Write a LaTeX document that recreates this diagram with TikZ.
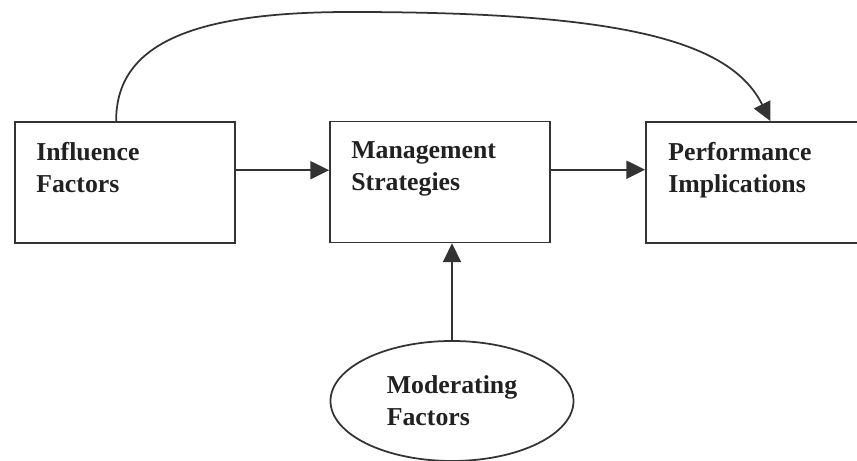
\documentclass[tikz,border=0pt]{standalone}
\usepackage{fontspec}
\setmainfont{Liberation Serif}
\usetikzlibrary{arrows.meta,calc,shapes.geometric}
\definecolor{LineClr}{rgb}{0.2,0.2,0.2}
\definecolor{TextClr}{rgb}{0.13,0.13,0.13}

\tikzset{
  box/.style={draw=LineClr,line width=1.5pt,minimum width=6.6cm,minimum height=3.63cm,inner sep=0pt},
  lbl/.style={anchor=north west,align=left,inner sep=0pt,text=TextClr,
    font=\fontsize{22}{27}\selectfont\bfseries},
  link/.style={draw=LineClr,line width=1.5pt,-{Triangle[length=5.6mm,width=5.4mm]}}
}

\begin{document}
\begin{tikzpicture}[x=0.03cm,y=-0.03cm]
\useasboundingbox (0,0) rectangle (857,461);

% boxes
\node[box] (inf)  at (125,182.5) {};
\node[box] (mgmt) at (440,182)   {};
\node[box] (perf) at (756,182.5) {};
\node[draw=LineClr,line width=1.5pt,ellipse,minimum width=7.29cm,minimum height=3.6cm,
  align=left,text=TextClr,font=\fontsize{22}{27}\selectfont\bfseries] (mod) at (452,401) {Moderating\\Factors};

\node[lbl] at ([shift={(22,21)}]inf.north west)  {Influence\\Factors};
\node[lbl] at ([shift={(22,21)}]mgmt.north west) {Management\\Strategies};
\node[lbl] at ([shift={(23,21)}]perf.north west) {Performance\\Implications};

% arrows
\coordinate (a1) at ($(inf.north east)!.4!(inf.south east)$);
\coordinate (a2) at ($(mgmt.north east)!.4!(mgmt.south east)$);
\draw[link] (a1) -- (a1 -| mgmt.west);
\draw[link] (a2) -- (a2 -| perf.west);
\draw[link] (mod.north) -- (mod.north |- mgmt.south);

\coordinate (s) at ($(inf.north west)!.46!(inf.north east)$);
\coordinate (e) at ($(perf.north west)!.565!(perf.north east)$);
\coordinate (top) at (350,12);
\draw[link] (s) .. controls (116,45) and (190,12) .. (top)
  .. controls (620,12) and (730,40) .. (e);

\end{tikzpicture}
\end{document}
